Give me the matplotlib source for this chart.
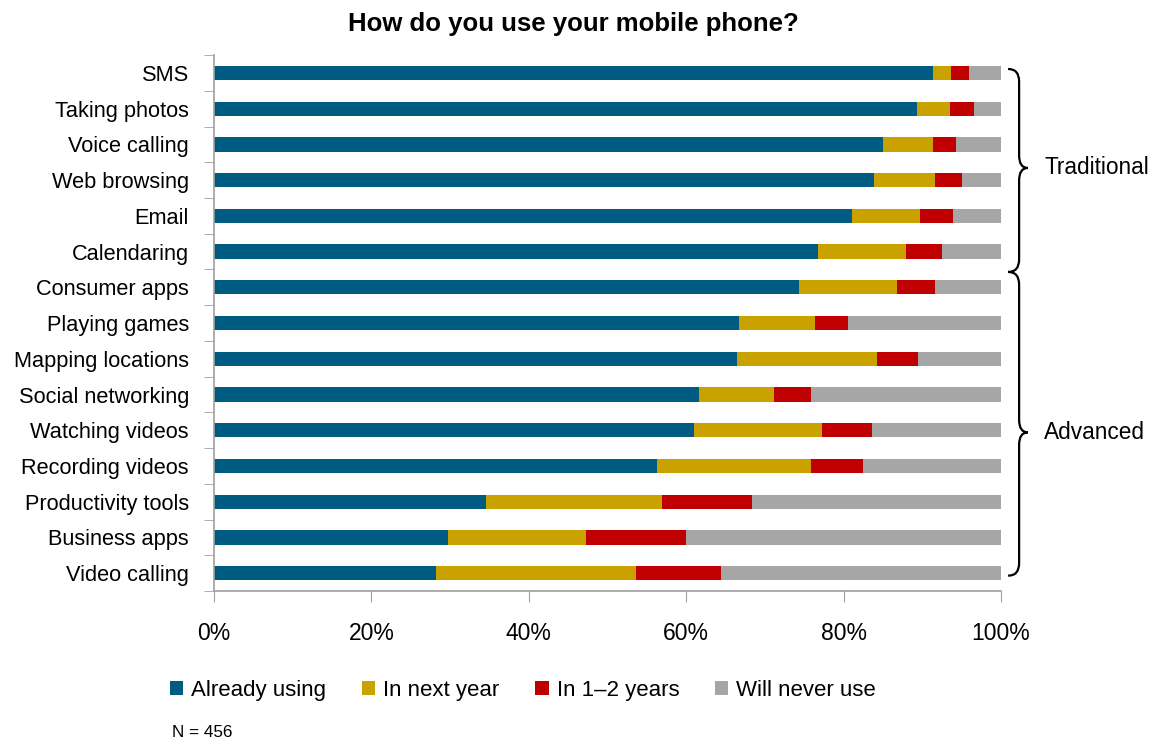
import numpy as np
import matplotlib.pyplot as plt
from matplotlib.patches import Patch, PathPatch
from matplotlib.path import Path

plt.rcParams['font.family'] = ['Liberation Sans', 'DejaVu Sans']

# ----------------------------
# Survey data (percent of respondents)
# ----------------------------
uses = ["SMS", "Taking photos", "Voice calling", "Web browsing", "Email",
        "Calendaring", "Consumer apps", "Playing games", "Mapping locations",
        "Social networking", "Watching videos", "Recording videos",
        "Productivity tools", "Business apps", "Video calling"]

already_using = [91.3, 89.3, 85.0, 83.9, 81.1, 76.7, 74.3, 66.7, 66.5,
                 61.6, 61.0, 56.3, 34.6, 29.7, 28.2]
next_year = [2.4, 4.2, 6.3, 7.7, 8.6, 11.2, 12.5, 9.7, 17.7,
             9.6, 16.2, 19.6, 22.3, 17.6, 25.4]
one_two_years = [2.2, 3.1, 3.0, 3.4, 4.2, 4.6, 4.8, 4.2, 5.2,
                 4.7, 6.4, 6.6, 11.5, 12.7, 10.8]
never_use = [4.1, 3.4, 5.7, 5.0, 6.1, 7.5, 8.4, 19.4, 10.6,
             24.1, 16.4, 17.5, 31.6, 40.0, 35.6]

series_names = ["Already using", "In next year", "In 1\u20132 years", "Will never use"]
colors = ["#005B82", "#C9A200", "#C00000", "#A6A6A6"]

# group name, first row, last row, where the brace points
groups = [("Traditional", 0, 5, 2.66), ("Advanced", 6, 14, 10.06)]

# ----------------------------
# Plot
# ----------------------------
fig = plt.figure(figsize=(11.61, 7.44), dpi=100)
ax = fig.add_axes([0.1843, 0.2056, 0.6779, 0.7204])

y = np.arange(len(uses))
left = np.zeros(len(uses))
for vals, col in zip([already_using, next_year, one_two_years, never_use], colors):
    ax.barh(y, vals, left=left, height=0.4, color=col, edgecolor='none')
    left += np.array(vals)

ax.set_xlim(0, 100)
ax.set_ylim(len(uses) - 0.5, -0.5)

ax.set_xticks(np.arange(0, 101, 20))
ax.set_xticklabels([f"{v}%" for v in range(0, 101, 20)], fontsize=16.5)
ax.set_yticks(y)
ax.set_yticklabels(uses, fontsize=15.7)
ax.tick_params(axis='y', length=0, pad=18)
ax.set_yticks(np.arange(-0.5, len(uses), 1.0), minor=True)
ax.tick_params(axis='y', which='minor', length=7, color='#A0A0A0', direction='out')
ax.tick_params(axis='x', length=8, color='#A0A0A0', pad=14)

for side in ['top', 'right']:
    ax.spines[side].set_visible(False)
for side in ['left', 'bottom']:
    ax.spines[side].set_color('#A0A0A0')
    ax.spines[side].set_linewidth(1.2)

# ----------------------------
# Curly braces for the two groups
# ----------------------------
def brace(ax, y0, y1, ym, x0=100.9, x1=102.3, x2=103.4, r=0.35):
    verts = [(x0, y0), (x1, y0), (x1, y0 + r),
             (x1, ym - r),
             (x1, ym), (x2, ym),
             (x1, ym), (x1, ym + r),
             (x1, y1 - r),
             (x1, y1), (x0, y1)]
    codes = [Path.MOVETO, Path.CURVE3, Path.CURVE3,
             Path.LINETO,
             Path.CURVE3, Path.CURVE3,
             Path.CURVE3, Path.CURVE3,
             Path.LINETO,
             Path.CURVE3, Path.CURVE3]
    ax.add_patch(PathPatch(Path(verts, codes), fill=False, lw=1.6,
                           edgecolor='black', clip_on=False))

for label, first, last, ym in groups:
    top = first - 0.11 if first == 0 else first - 0.43
    bottom = last + 0.07 if last == len(uses) - 1 else last + 0.57
    brace(ax, top, bottom, ym)
    ax.text(105.5, ym, label, fontsize=16.3, va='center', ha='left', clip_on=False)

fig.text(0.4935, 0.968, "How do you use your mobile phone?", fontsize=18.5,
         fontweight='bold', ha='center', va='center')

handles = [Patch(facecolor=c, edgecolor='none') for c in colors]
fig.legend(handles, series_names, loc='center left', bbox_to_anchor=(0.146, 0.072),
           ncol=4, frameon=False, fontsize=16, handlelength=0.62, handleheight=0.62,
           handletextpad=0.35, columnspacing=1.6, borderaxespad=0, borderpad=0)

fig.text(0.148, 0.015, "N = 456", fontsize=12.3, ha='left', va='center')

plt.savefig("out.png", dpi=100)
